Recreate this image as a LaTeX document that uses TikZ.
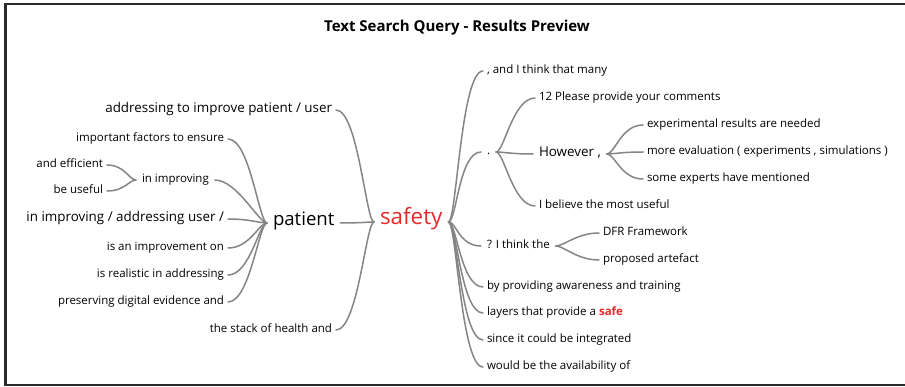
\documentclass[tikz,border=0pt]{standalone}
\usepackage{fontspec}
\setmainfont{Open Sans}
\definecolor{linkgray}{HTML}{858585}
\definecolor{hitred}{HTML}{E42A2A}
\definecolor{framegray}{HTML}{2A2A2A}
\begin{document}
\begin{tikzpicture}[x=1pt,y=-1pt,
  word/.style={inner sep=0pt,outer xsep=4pt,text height=0.72em,text depth=0.22em,
    font=\fontsize{11.5}{13}\selectfont},
  wordm/.style={word,font=\fontsize{13.4}{15}\selectfont},
  hub/.style={outer xsep=6pt},
  link/.style={draw=linkgray,line width=1.5pt,line cap=round},
  into/.style={out=0,in=180,out distance=22pt,in distance=8pt},
  from/.style={out=0,in=180,out distance=8pt,in distance=22pt}]
% canvas and frame
\path[fill=white] (0,0) rectangle (905,387);
\useasboundingbox (0,0) rectangle (905,387);
\draw[framegray,line width=2pt] (5,4) -- (905,4);
\draw[framegray,line width=2pt] (5,385) -- (905,385);
\draw[framegray,line width=3pt] (5.5,3) -- (5.5,386);

\node[font=\bfseries\fontsize{15}{17}\selectfont] (title) at (457,28) {Text Search Query - Results Preview};

% keywords
\node[word,hub,anchor=west,font=\fontsize{18.6}{21}\selectfont] (patient) at (267,223) {patient};
\node[word,hub,anchor=west,text=hitred,font=\fontsize{22.4}{25}\selectfont] (safety) at (374,222) {safety};

% left branch (preceding words)
\node[wordm,anchor=east] (l1) at (336,110) {addressing to improve patient / user};
\node[word,anchor=east] (l2) at (228,139) {important factors to ensure};
\node[word,anchor=east] (l3a) at (107,165) {and efficient};
\node[word,anchor=east] (l3b) at (107,191) {be useful};
\node[word,hub,anchor=west] (l3) at (136,180) {in improving};
\node[wordm,anchor=east] (l4) at (228,219) {in improving / addressing user /};
\node[word,anchor=east] (l5) at (228,248) {is an improvement on};
\node[word,anchor=east] (l6) at (228,275) {is realistic in addressing};
\node[word,anchor=east] (l7) at (228,302) {preserving digital evidence and};
\node[word,anchor=east] (l8) at (336,330) {the stack of health and};

% right branch (following words)
\node[word,anchor=west] (r1) at (483,71) {, and I think that many};
\node[word,hub,anchor=west] (rd) at (481,152) {.};
\node[word,anchor=west] (r2a) at (535,98) {12 Please provide your comments};
\node[wordm,hub,anchor=west] (r2b) at (533,154) {However ,};
\node[word,anchor=west] (r2c) at (535,206) {I believe the most useful};
\node[word,anchor=west] (r2b1) at (643,125) {experimental results are needed};
\node[word,anchor=west] (r2b2) at (643,152) {more evaluation ( experiments , simulations )};
\node[word,anchor=west] (r2b3) at (643,179) {some experts have mentioned};
\node[word,hub,anchor=west] (r3) at (481,246) {? I think the};
\node[word,anchor=west] (r3a) at (599,233) {DFR Framework};
\node[word,anchor=west] (r3b) at (599,260) {proposed artefact};
\node[word,anchor=west] (r4) at (483,287) {by providing awareness and training};
\node[word,anchor=west] (r5) at (483,313) {layers that provide a \textcolor{hitred}{\bfseries safe}};
\node[word,anchor=west] (r6) at (483,340) {since it could be integrated};
\node[word,anchor=west] (r7) at (483,367) {would be the availability of};

% connectors into "patient"
\foreach \n in {l2,l3,l4,l5,l6,l7}
  \draw[link] (\n.east) to[into] (patient.west);
\foreach \n in {l3a,l3b}
  \draw[link] (\n.east) to[into,out distance=18pt,in distance=7pt] (l3.west);
% connectors into "safety"
\foreach \n in {l1,patient,l8}
  \draw[link] (\n.east) to[into] (safety.west);
% connectors out of "safety"
\foreach \n in {r1,rd,r3,r4,r5,r6,r7}
  \draw[link] (safety.east) to[from] (\n.west);
\foreach \n in {r2a,r2b,r2c}
  \draw[link] (rd.east) to[from] (\n.west);
\foreach \n in {r2b1,r2b2,r2b3}
  \draw[link] (r2b.east) to[from] (\n.west);
\foreach \n in {r3a,r3b}
  \draw[link] (r3.east) to[from] (\n.west);
\end{tikzpicture}
\end{document}
